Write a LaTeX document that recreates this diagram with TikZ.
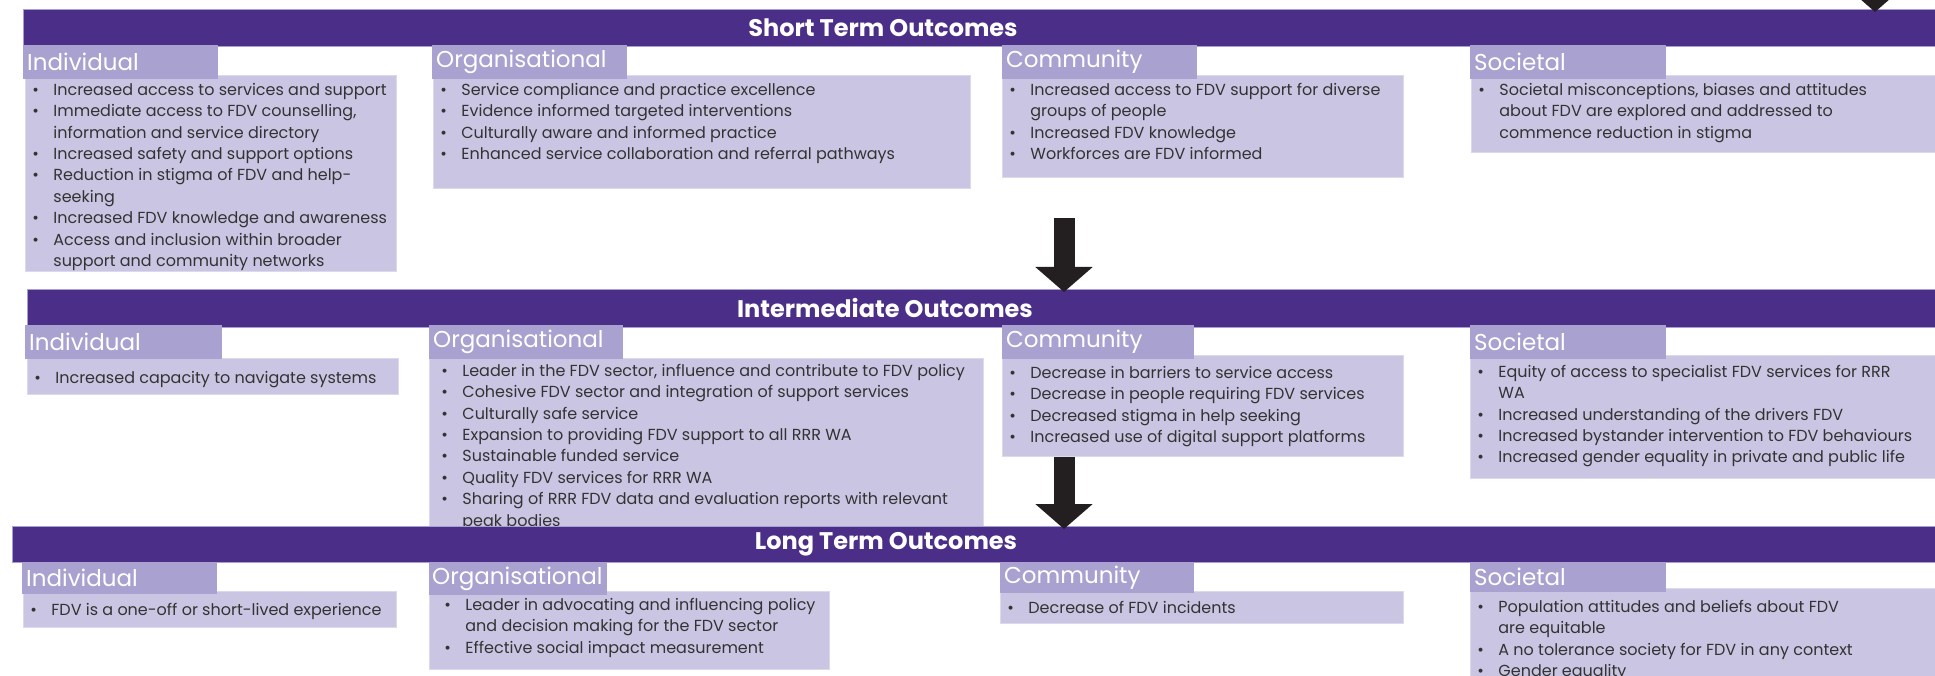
\documentclass[tikz,border=0pt]{standalone}
\usepackage{fontspec}
\setmainfont{Poppins}
\usepackage{xcolor}
\usepackage{tikz}
\usetikzlibrary{arrows.meta}
\definecolor{barpurple}{HTML}{4A2E87}
\definecolor{barline}{HTML}{A79FD0}
\definecolor{headpurple}{HTML}{A9A1CF}
\definecolor{bodypurple}{HTML}{CAC5E3}
\definecolor{bodyline}{HTML}{DCD8EE}
\definecolor{txt}{HTML}{333333}
\definecolor{arrowblack}{HTML}{231F20}
\tikzset{
  bar/.style={fill=barpurple, draw=barline, line width=0.8pt, anchor=north west, inner sep=0pt},
  bartitle/.style={text=white, font=\fontsize{24}{24}\selectfont\bfseries},
  cathead/.style={fill=headpurple, anchor=north west, inner xsep=4pt, inner ysep=0pt,
    minimum height=34pt, align=left, text=white, font=\fontsize{23}{23}\selectfont},
  catbody/.style={fill=bodypurple, draw=bodyline, line width=0.8pt, anchor=north west,
    inner sep=0pt, text=txt, font=\fontsize{16}{21.4}\selectfont},
  downarrow/.style={draw=arrowblack, line width=21pt,
    -{Triangle[width=56pt,length=25pt]}, shorten >=-3pt},
}
% one bullet point, continuation lines hang under the text
\newcommand{\itm}[1]{\par\hangindent=28pt\hangafter=1\noindent
  \makebox[28pt][l]{\hspace*{7pt}\textbullet}\strut#1\strut}
% box content: width, height, optional top gap
\newcommand{\itemlist}[4][5pt]{\parbox[t][#3][t]{#2}{\vspace*{#1}%
  \rightskip=0pt plus 1fil\relax#4}}

\begin{document}
\begin{tikzpicture}[x=1pt, y=-1pt]
  \useasboundingbox (0,0) rectangle (1935,676);
  \clip (0,0) rectangle (1935,676);

  % short term
  \node[bar, minimum width=1930pt, minimum height=37pt] (sbar) at (23,9) {};
  \node[bartitle] (stitle) at (883,27.5) {Short Term Outcomes};

  \node[catbody] (sind) at (25,75) {\itemlist{371pt}{196pt}{
    \itm{Increased access to services and support}
    \itm{Immediate access to FDV counselling,\\information and service directory}
    \itm{Increased safety and support options}
    \itm{Reduction in stigma of FDV and help-\\seeking}
    \itm{Increased FDV knowledge and awareness}
    \itm{Access and inclusion within broader\\support and community networks}}};
  \node[catbody] (sorg) at (433,75) {\itemlist{537pt}{113pt}{
    \itm{Service compliance and practice excellence}
    \itm{Evidence informed targeted interventions}
    \itm{Culturally aware and informed practice}
    \itm{Enhanced service collaboration and referral pathways}}};
  \node[catbody] (scom) at (1002,75) {\itemlist{401pt}{102pt}{
    \itm{Increased access to FDV support for diverse\\groups of people}
    \itm{Increased FDV knowledge}
    \itm{Workforces are FDV informed}}};
  \node[catbody] (ssoc) at (1471,75) {\itemlist{470pt}{77pt}{
    \itm{Societal misconceptions, biases and attitudes\\about FDV are explored and addressed to\\commence reduction in stigma}}};

  \node[cathead, minimum width=195pt, text width=187pt] (sindh) at (23,45) {Individual};
  \node[cathead, minimum width=195pt, text width=187pt] (sorgh) at (432,45) {Organisational};
  \node[cathead, minimum width=195pt, text width=187pt] (scomh) at (1002,45) {Community};
  \node[cathead, minimum width=196pt, text width=188pt] (ssoch) at (1470,45) {Societal};

  \draw[downarrow] (1875,-60) coordinate (a0) -- (a0 |- sbar.north);

  % intermediate
  \node[bar, minimum width=1930pt, minimum height=38pt] (ibar) at (27,289) {};
  \node[bartitle] (ititle) at (885,308) {Intermediate Outcomes};

  \node[catbody] (iind) at (27,358) {\itemlist[10pt]{371pt}{36pt}{
    \itm{Increased capacity to navigate systems}}};
  \node[catbody, inner xsep=5pt] (iorg) at (429,358) {\itemlist[3pt]{544pt}{180pt}{
    \itm{Leader in the FDV sector, influence and contribute to FDV policy}
    \itm{Cohesive FDV sector and integration of support services}
    \itm{Culturally safe service}
    \itm{Expansion to providing FDV support to all RRR WA}
    \itm{Sustainable funded service}
    \itm{Quality FDV services for RRR WA}
    \itm{Sharing of RRR FDV data and evaluation reports with relevant\\peak bodies}}};
  \node[catbody] (icom) at (1002,355) {\itemlist[8pt]{401pt}{101pt}{
    \itm{Decrease in barriers to service access}
    \itm{Decrease in people requiring FDV services}
    \itm{Decreased stigma in help seeking}
    \itm{Increased use of digital support platforms}}};
  \node[catbody] (isoc) at (1470,355) {\itemlist[7pt]{470pt}{123pt}{
    \itm{Equity of access to specialist FDV services for RRR\\WA}
    \itm{Increased understanding of the drivers FDV}
    \itm{Increased bystander intervention to FDV behaviours}
    \itm{Increased gender equality in private and public life}}};

  \node[cathead, minimum width=197pt, text width=189pt] (iindh) at (25,325) {Individual};
  \node[cathead, minimum width=194pt, text width=186pt] (iorgh) at (429,325) {Organisational};
  \node[cathead, minimum width=192pt, text width=184pt] (icomh) at (1002,325) {Community};
  \node[cathead, minimum width=196pt, text width=188pt] (isoch) at (1470,325) {Societal};

  \coordinate (a1) at (1064,218);
  \draw[downarrow] (a1) -- (a1 |- ibar.north);

  % long term
  \node[bar, minimum width=1930pt, minimum height=36pt] (lbar) at (12,526) {};
  \node[bartitle] (ltitle) at (886,544) {Long Term Outcomes};

  \node[catbody] (lind) at (23,591) {\itemlist[9pt]{373pt}{36pt}{
    \itm{FDV is a one-off or short-lived experience}}};
  \node[catbody, inner xsep=8pt] (lorg) at (429,591) {\itemlist[4pt]{384pt}{78pt}{
    \itm{Leader in advocating and influencing policy\\and decision making for the FDV sector}
    \itm{Effective social impact measurement}}};
  \node[catbody] (lcom) at (1000,591) {\itemlist[7pt]{403pt}{32pt}{
    \itm{Decrease of FDV incidents}}};
  \node[catbody] (lsoc) at (1470,588) {\itemlist[9pt]{470pt}{110pt}{
    \itm{Population attitudes and beliefs about FDV\\are equitable}
    \itm{A no tolerance society for FDV in any context}
    \itm{Gender equality}}};

  \node[cathead, minimum width=195pt, text width=187pt, minimum height=32pt] (lindh) at (22,562) {Individual};
  \node[cathead, minimum width=178pt, text width=172pt, inner xsep=3pt, minimum height=32pt] (lorgh) at (429,563) {Organisational};
  \node[cathead, minimum width=194pt, text width=186pt, minimum height=31pt] (lcomh) at (1000,562) {Community};
  \node[cathead, minimum width=196pt, text width=188pt, minimum height=30pt] (lsoch) at (1470,562) {Societal};

  \draw[downarrow] (icom.south -| a1) -- (a1 |- lbar.north);
\end{tikzpicture}
\end{document}
